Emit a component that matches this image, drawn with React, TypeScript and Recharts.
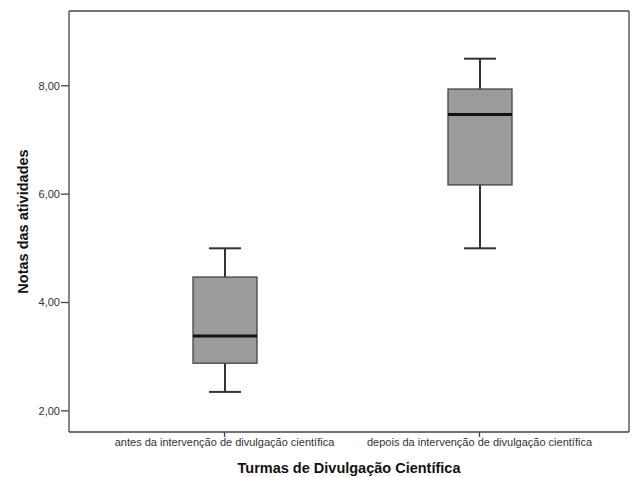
import { ComposedChart, Bar, Line, XAxis, YAxis } from "recharts";

const categories = [
  "antes da intervenção de divulgação científica",
  "depois da intervenção de divulgação científica"
];
const mins = [2.35, 5.0];
const q1s = [2.88, 6.17];
const medians = [3.38, 7.47];
const q3s = [4.47, 7.94];
const maxs = [5.0, 8.5];
const yTicks = [2, 4, 6, 8];

const Y_MIN = 1.61;
const Y_MAX = 9.38;

const data = categories.map((name, i) => ({
  name,
  box: [q1s[i], q3s[i]],
  min: mins[i],
  q1: q1s[i],
  median: medians[i],
  q3: q3s[i],
  max: maxs[i]
}));

const fmt = (v: number) => v.toFixed(2).replace(".", ",");
const FONT = "'Liberation Sans', Arial, sans-serif";
const FRAME = { stroke: "#444", strokeWidth: 1.3 };

// draws the box from the [q1, q3] range bar, whiskers scaled from the same bar
const BoxShape = (props: any) => {
  const { x, y, width, height, payload } = props;
  const top = Math.min(y, y + height);
  const h = Math.abs(height);
  const k = h / (payload.q3 - payload.q1);
  const yOf = (v: number) => top + (payload.q3 - v) * k;
  const cx = x + width / 2;
  const cap = width / 4;
  return (
    <g>
      <line x1={cx} x2={cx} y1={yOf(payload.max)} y2={top} stroke="#333" strokeWidth={2} />
      <line x1={cx} x2={cx} y1={top + h} y2={yOf(payload.min)} stroke="#333" strokeWidth={2} />
      <line x1={cx - cap} x2={cx + cap} y1={yOf(payload.max)} y2={yOf(payload.max)} stroke="#333" strokeWidth={2} />
      <line x1={cx - cap} x2={cx + cap} y1={yOf(payload.min)} y2={yOf(payload.min)} stroke="#333" strokeWidth={2} />
      <rect x={x} y={top} width={width} height={h} fill="#9b9b9b" stroke="#444" strokeWidth={1.3} />
      <line x1={x} x2={x + width} y1={yOf(payload.median)} y2={yOf(payload.median)} stroke="#111" strokeWidth={3} />
    </g>
  );
};

export default function App() {
  return (
    <div style={{ position: "absolute", left: 0, top: 0, background: "#fff" }}>
      <ComposedChart
        width={637}
        height={477}
        data={data}
        margin={{ top: 10, right: 7, bottom: 2, left: 0 }}
      >
        <XAxis
          dataKey="name"
          type="category"
          padding={{ left: 28, right: 22 }}
          height={43}
          tickSize={5}
          tickMargin={1}
          axisLine={FRAME}
          tickLine={FRAME}
          tick={{ fontSize: 11, fill: "#333", fontFamily: FONT }}
          label={{
            value: "Turmas de Divulgação Científica",
            position: "insideBottom",
            offset: 2,
            style: { fontSize: 14.5, fontWeight: "bold", fill: "#111", fontFamily: FONT }
          }}
        />
        <XAxis
          xAxisId="top"
          orientation="top"
          dataKey="name"
          type="category"
          height={1}
          tick={false}
          tickLine={false}
          axisLine={FRAME}
        />
        <YAxis
          type="number"
          domain={[Y_MIN, Y_MAX]}
          allowDataOverflow
          ticks={yTicks}
          tickFormatter={fmt}
          width={69}
          tickSize={8}
          tickMargin={1}
          axisLine={FRAME}
          tickLine={FRAME}
          tick={{ fontSize: 11, fill: "#333", fontFamily: FONT }}
          label={{
            content: (p: any) => {
              const vb = p.viewBox;
              const cy = vb.y + vb.height / 2;
              return (
                <text
                  x={23}
                  y={cy}
                  transform={`rotate(-90, 23, ${cy})`}
                  textAnchor="middle"
                  dominantBaseline="central"
                  style={{ fontSize: 14.5, fontWeight: "bold", fill: "#111", fontFamily: FONT }}
                >
                  Notas das atividades
                </text>
              );
            }
          }}
        />
        <YAxis
          yAxisId="right"
          orientation="right"
          type="number"
          domain={[Y_MIN, Y_MAX]}
          allowDataOverflow
          width={1}
          tick={false}
          tickLine={false}
          axisLine={FRAME}
        />
        <Bar dataKey="box" barSize={64} isAnimationActive={false} shape={BoxShape} />
        <Line
          xAxisId="top"
          yAxisId="right"
          dataKey="median"
          stroke="none"
          dot={false}
          activeDot={false}
          legendType="none"
          isAnimationActive={false}
        />
      </ComposedChart>
    </div>
  );
}
